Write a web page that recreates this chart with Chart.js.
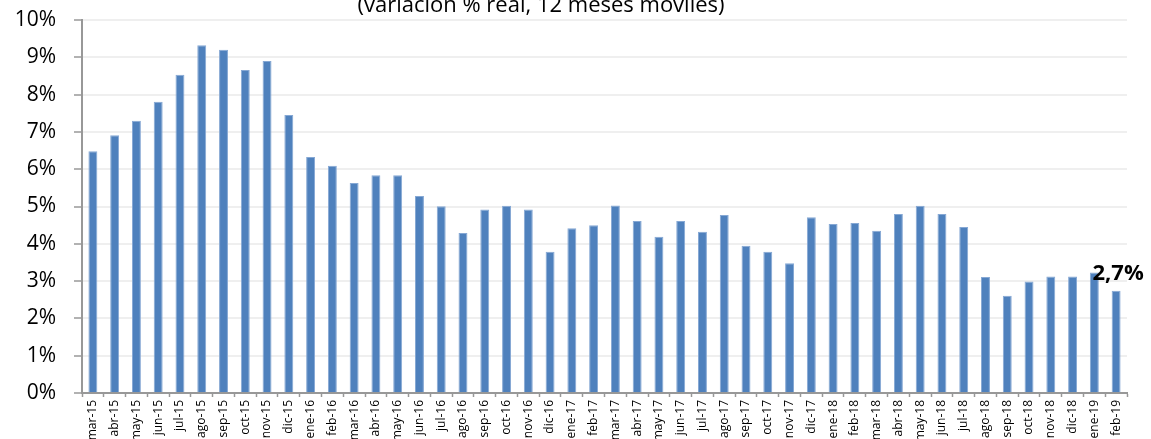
<!DOCTYPE html>
<html>
<head>
<meta charset="utf-8">
<script src="https://cdn.jsdelivr.net/npm/chart.js@4/dist/chart.umd.min.js"></script>
<style>
  html, body { margin: 0; padding: 0; background: #ffffff; overflow: hidden; }
  canvas { display: block; }
</style>
</head>
<body>
<canvas id="c" width="1151" height="439"></canvas>
<script>
const titleText = "(variación % real, 12 meses móviles)";
const categories = [
  "mar-15","abr-15","may-15","jun-15","jul-15","ago-15","sep-15","oct-15","nov-15","dic-15",
  "ene-16","feb-16","mar-16","abr-16","may-16","jun-16","jul-16","ago-16","sep-16","oct-16","nov-16","dic-16",
  "ene-17","feb-17","mar-17","abr-17","may-17","jun-17","jul-17","ago-17","sep-17","oct-17","nov-17","dic-17",
  "ene-18","feb-18","mar-18","abr-18","may-18","jun-18","jul-18","ago-18","sep-18","oct-18","nov-18","dic-18",
  "ene-19","feb-19"
];
const values = [
  6.48, 6.91, 7.30, 7.81, 8.53, 9.32, 9.20, 8.66, 8.90, 7.45,
  6.33, 6.09, 5.63, 5.84, 5.84, 5.28, 5.01, 4.29, 4.92, 5.02, 4.92, 3.79,
  4.42, 4.50, 5.03, 4.61, 4.19, 4.61, 4.32, 4.77, 3.95, 3.79, 3.48, 4.71,
  4.53, 4.56, 4.35, 4.80, 5.02, 4.80, 4.45, 3.11, 2.61, 2.99, 3.12, 3.12,
  3.23, 2.74
];
const yTicks = [0,1,2,3,4,5,6,7,8,9,10];
const lastLabel = "2,7%";

const axisGray = "#989898";

const overlay = {
  id: "overlay",
  afterDraw(chart) {
    const ctx = chart.ctx;
    ctx.save();
    ctx.fillStyle = "#000000";
    ctx.font = "22px 'Open Sans'";
    ctx.textAlign = "center";
    ctx.textBaseline = "alphabetic";
    ctx.fillText(titleText, 541, 12);
    const meta = chart.getDatasetMeta(0);
    const el = meta.data[meta.data.length - 1];
    ctx.font = "bold 22px 'Open Sans'";
    ctx.fillText(lastLabel, el.x + 2, el.y - 11);
    ctx.restore();
  }
};

new Chart(document.getElementById("c"), {
  type: "bar",
  data: {
    labels: categories,
    datasets: [{
      data: values,
      backgroundColor: "#4F81BD",
      borderColor: "#86A8D4",
      borderWidth: 1,
      barPercentage: 0.41,
      categoryPercentage: 1.0
    }]
  },
  options: {
    responsive: false,
    animation: false,
    layout: { padding: { left: 0, right: 24, top: 20, bottom: 0 } },
    plugins: { legend: { display: false }, tooltip: { enabled: false }, title: { display: false } },
    scales: {
      x: {
        offset: true,
        grid: { display: true, drawOnChartArea: false, offset: true, tickLength: 4, tickColor: axisGray, tickWidth: 1.5 },
        border: { display: true, color: axisGray, width: 2 },
        ticks: {
          autoSkip: false, maxRotation: 90, minRotation: 90, padding: 3,
          color: "#000000", font: { family: "'Open Sans'", size: 12 }
        },
        afterFit(s) { s.height = 46; s.paddingLeft = 0; s.paddingRight = 0; }
      },
      y: {
        min: 0, max: 10,
        afterBuildTicks(s) { s.ticks = yTicks.map(v => ({ value: v })); },
        grid: { color: "#EFEFEF", lineWidth: 2, tickLength: 8, tickColor: axisGray, tickWidth: 1.5 },
        border: { display: true, color: axisGray, width: 2 },
        ticks: {
          padding: 18, color: "#000000",
          font: { family: "'Open Sans'", size: 21 },
          callback: v => v + "%"
        },
        afterFit(s) { s.width = 82; s.paddingTop = 0; s.paddingBottom = 0; }
      }
    }
  },
  plugins: [overlay]
});
</script>
</body>
</html>
